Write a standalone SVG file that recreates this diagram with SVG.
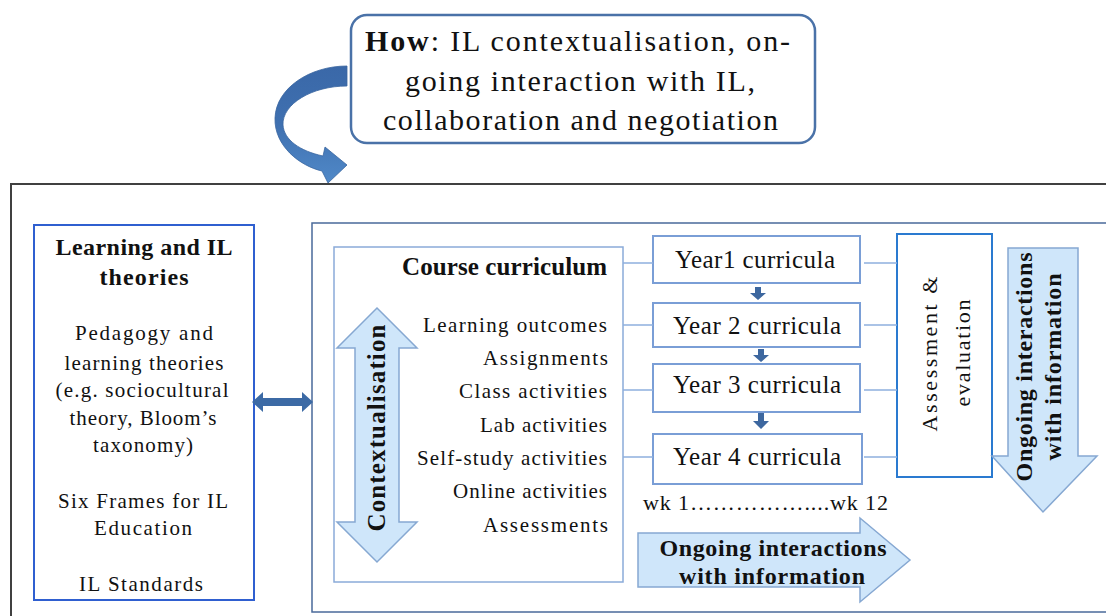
<svg xmlns="http://www.w3.org/2000/svg" width="1106" height="616" viewBox="0 0 1106 616">
<defs>
<style>
text{font-family:"Liberation Serif","Times New Roman",serif;fill:#111}
.b{font-weight:bold}
.box{fill:#fff}
.conn{stroke:#8fb0de;stroke-width:1.5;fill:none}
.light{fill:#cfe6fa;stroke:#86a8d2;stroke-width:1.5}
.dark{fill:#3d679f}
</style>
<linearGradient id="cg" x1="0" y1="0" x2="0" y2="1">
<stop offset="0" stop-color="#3a68a8"/>
<stop offset="0.5" stop-color="#3f70b0"/>
<stop offset="1" stop-color="#5089c8"/>
</linearGradient>
</defs>
<rect width="1106" height="616" fill="#fff"/>

<g id="outer-frame">
<rect x="11" y="184" width="1130" height="460" fill="none" stroke="#404040" stroke-width="2"/>
</g>

<g id="how-box">
<rect x="351" y="15" width="464" height="128" rx="16" fill="#fff" stroke="#4a72a8" stroke-width="2.5"/>
<text x="365" y="51" font-size="30" textLength="425" lengthAdjust="spacing"><tspan class="b">How</tspan>: IL contextualisation,  on-</text>
<text x="405" y="91" font-size="30" textLength="350" lengthAdjust="spacing">going  interaction  with IL,</text>
<text x="383" y="130" font-size="30" textLength="395" lengthAdjust="spacing">collaboration  and negotiation</text>
</g>

<g id="curved-arrow">
<path d="M347,66 C310,66 276,88 275,118 C274,146 300,166 322,171 L328,183 L347,165 L325,147 L323,156 C300,151 284,140 283,125 C282,104 312,86 347,86 Z" fill="url(#cg)" stroke="#3a66a0" stroke-width="0.8"/>
</g>

<g id="theories">
<rect x="34" y="225" width="220" height="375" class="box" stroke="#2f5fd0" stroke-width="2"/>
<text x="144" y="255" font-size="24" class="b" text-anchor="middle" textLength="177" lengthAdjust="spacing">Learning and IL</text>
<text x="144" y="285" font-size="24" class="b" text-anchor="middle" textLength="89" lengthAdjust="spacing">theories</text>
<text x="144" y="340" font-size="21" text-anchor="middle" textLength="138" lengthAdjust="spacing">Pedagogy and</text>
<text x="144" y="370" font-size="21" text-anchor="middle" textLength="159" lengthAdjust="spacing">learning theories</text>
<text x="142" y="397" font-size="21" text-anchor="middle" textLength="173" lengthAdjust="spacing">(e.g. sociocultural</text>
<text x="143" y="425" font-size="21" text-anchor="middle" textLength="147" lengthAdjust="spacing">theory, Bloom’s</text>
<text x="143" y="452" font-size="21" text-anchor="middle" textLength="100" lengthAdjust="spacing">taxonomy)</text>
<text x="143" y="508" font-size="21" text-anchor="middle" textLength="170" lengthAdjust="spacing">Six Frames for  IL</text>
<text x="143" y="535" font-size="21" text-anchor="middle" textLength="98" lengthAdjust="spacing">Education</text>
<text x="141" y="591" font-size="21" text-anchor="middle" textLength="124" lengthAdjust="spacing">IL Standards</text>
</g>

<g id="curriculum-frame">
<rect x="312" y="223" width="820" height="389" class="box" stroke="#4a6a9a" stroke-width="1.5"/>
</g>

<g id="course-curriculum">
<rect x="334" y="247" width="289" height="335" class="box" stroke="#8aabd9" stroke-width="1.5"/>
<text x="607" y="275" font-size="25" class="b" text-anchor="end" textLength="205" lengthAdjust="spacing">Course curriculum</text>
<text x="607" y="332" font-size="21" text-anchor="end" textLength="184" lengthAdjust="spacing">Learning outcomes</text>
<text x="608" y="365" font-size="21" text-anchor="end" textLength="125" lengthAdjust="spacing">Assignments</text>
<text x="607" y="398" font-size="21" text-anchor="end" textLength="148" lengthAdjust="spacing">Class  activities</text>
<text x="607" y="432" font-size="21" text-anchor="end" textLength="127" lengthAdjust="spacing">Lab activities</text>
<text x="607" y="465" font-size="21" text-anchor="end" textLength="190" lengthAdjust="spacing">Self-study activities</text>
<text x="607" y="498" font-size="21" text-anchor="end" textLength="154" lengthAdjust="spacing">Online activities</text>
<text x="608" y="532" font-size="21" text-anchor="end" textLength="125" lengthAdjust="spacing">Assessments</text>
</g>

<g id="contextualisation">
<path class="light" d="M377,308 L417,348 L399,348 L399,522 L417,522 L377,562 L337,522 L355,522 L355,348 L337,348 Z"/>
<text transform="translate(385,428) rotate(-90)" font-size="25" class="b" text-anchor="middle" textLength="207" lengthAdjust="spacing">Contextualisation</text>
</g>

<g id="year1">
<rect x="653" y="236" width="207" height="47" class="box" stroke="#7a9ed6" stroke-width="2"/>
<text x="755" y="268" font-size="25" text-anchor="middle" textLength="160" lengthAdjust="spacing">Year1 curricula</text>
</g>
<g id="year2">
<rect x="653" y="303" width="207" height="44" class="box" stroke="#7a9ed6" stroke-width="2"/>
<text x="757" y="334" font-size="25" text-anchor="middle" textLength="168" lengthAdjust="spacing">Year 2 curricula</text>
</g>
<g id="year3">
<rect x="653" y="364" width="207" height="48" class="box" stroke="#7a9ed6" stroke-width="2"/>
<text x="757" y="393" font-size="25" text-anchor="middle" textLength="168" lengthAdjust="spacing">Year 3 curricula</text>
</g>
<g id="year4">
<rect x="653" y="434" width="209" height="50" class="box" stroke="#7a9ed6" stroke-width="2"/>
<text x="757" y="465" font-size="25" text-anchor="middle" textLength="168" lengthAdjust="spacing">Year 4 curricula</text>
</g>

<g id="weeks">
<text x="643" y="510" font-size="22" textLength="245" lengthAdjust="spacing">wk 1……………....wk 12</text>
</g>

<g id="assessment">
<rect x="897" y="234" width="95" height="243" class="box" stroke="#2a7ad0" stroke-width="2"/>
<text transform="translate(937,354) rotate(-90)" font-size="22" text-anchor="middle" textLength="155" lengthAdjust="spacing">Assessment &amp;</text>
<text transform="translate(970,353) rotate(-90)" font-size="22" text-anchor="middle" textLength="107" lengthAdjust="spacing">evaluation</text>
</g>

<g id="ongoing-vertical">
<path class="light" d="M1008,248 L1078,248 L1078,456 L1097,456 L1043,512 L992,456 L1008,456 Z"/>
<text transform="translate(1032,367) rotate(-90)" font-size="24" class="b" text-anchor="middle" textLength="229" lengthAdjust="spacing">Ongoing interactions</text>
<text transform="translate(1061,367) rotate(-90)" font-size="24" class="b" text-anchor="middle" textLength="187" lengthAdjust="spacing">with information</text>
</g>

<g id="ongoing-horizontal">
<path class="light" d="M638,533 L860,533 L860,518 L910,560 L860,602 L860,587 L638,587 Z"/>
<text x="773" y="556" font-size="24" class="b" text-anchor="middle" textLength="227" lengthAdjust="spacing">Ongoing interactions</text>
<text x="772" y="584" font-size="24" class="b" text-anchor="middle" textLength="186" lengthAdjust="spacing">with information</text>
</g>

<g id="connectors">
<path class="conn" d="M623,263 H653 M623,325 H653 M623,390 H653 M623,457 H653"/>
<path class="conn" d="M864,263 H897 M864,325 H897 M864,390 H897 M864,457 H897"/>
<path class="dark" d="M755,287 h6 v6 h5 l-8,7 l-8,-7 h5 Z"/>
<path class="dark" d="M758,349 h6 v6 h5 l-8,7 l-8,-7 h5 Z"/>
<path class="dark" d="M758,413 h6 v8 h5 l-8,8 l-8,-8 h5 Z"/>
<path d="M252,402 L263,392 L263,398 L302,398 L302,392 L313,402 L302,412 L302,406 L263,406 L263,412 Z" fill="#3c6aa5"/>
</g>
</svg>
